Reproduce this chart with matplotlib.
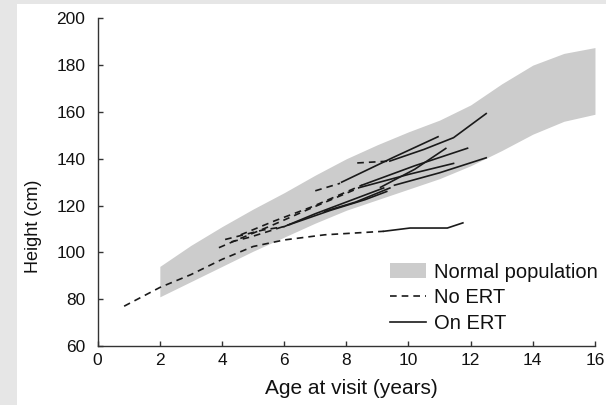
import matplotlib.pyplot as plt
from matplotlib.patches import Rectangle

plt.rcParams['font.family'] = ['Liberation Sans', 'DejaVu Sans']

# normal population range (shaded band)
band_age = [2, 3, 4, 5, 6, 7, 8, 9, 10, 11, 12, 13, 14, 15, 16]
band_low = [81, 87.5, 94, 100.5, 106.5, 112.5, 118, 122.5, 127, 131.5, 137, 143.5, 150.5, 156, 159]
band_high = [94, 103, 111, 118.5, 125.5, 133, 140, 146, 151.5, 156.5, 163, 172, 180, 185, 187.5]

# patients before ERT (dashed)
no_ert_ages = [
    [0.85, 2.0, 3.0, 4.0, 5.0, 6.0, 7.3, 9.2],
    [3.9, 4.6, 5.6, 6.8, 8.4],
    [4.1, 4.7, 5.3, 6.0],
    [4.3, 4.9, 5.5, 6.2],
    [4.6, 5.7, 6.9, 8.5],
    [7.0, 7.8],
    [8.35, 9.4],
]
no_ert_heights = [
    [77, 85, 90.5, 97, 102.5, 105.3, 107.5, 109],
    [102, 106, 111.5, 118.5, 127.5],
    [105.5, 107.5, 109.5, 111],
    [104.5, 106.5, 109, 112],
    [107.5, 113.5, 119.5, 128.7],
    [126.3, 129.5],
    [138.2, 139],
]

# patients on ERT (solid)
on_ert_ages = [
    [6.0, 7.0, 8.0, 9.2],
    [6.2, 7.5, 8.6, 9.3],
    [7.3, 8.3, 9.4],
    [7.85, 9.5, 10.95],
    [9.4, 10.5, 11.45, 12.5],
    [8.5, 10.2, 11.9],
    [8.4, 10.0, 11.45],
    [9.55, 11.0, 12.5],
    [9.1, 10.2, 11.2],
    [9.2, 10.05, 11.25, 11.75],
]
on_ert_heights = [
    [111, 116.5, 121.5, 127.5],
    [112, 118, 122.5, 126],
    [117.5, 121.5, 127.5],
    [130, 140.5, 149.4],
    [139, 144, 149, 159.3],
    [128.7, 137, 144.5],
    [127.6, 133.3, 138],
    [128.7, 134, 140.4],
    [127.8, 135.5, 144.4],
    [109, 110.4, 110.4, 112.6],
]

fig = plt.figure(figsize=(6.06, 4.05), dpi=100, facecolor='#e6e6e6')
fig.patches.append(Rectangle((17 / 606, 0), 1, 1 - 4 / 405, transform=fig.transFigure,
                             facecolor='white', edgecolor='none', zorder=-1))
ax = fig.add_axes([0.1612, 0.1457, 0.8206, 0.8091])
ax.patch.set_visible(False)

ax.fill_between(band_age, band_low, band_high, color='#cccccc', lw=0, label='Normal population')

line_col = '#1a1a1a'
for i in range(len(no_ert_ages)):
    ax.plot(no_ert_ages[i], no_ert_heights[i], color=line_col, lw=1.2, ls=(0, (4, 3)),
            label='No ERT' if i == 0 else None)
for i in range(len(on_ert_ages)):
    ax.plot(on_ert_ages[i], on_ert_heights[i], color=line_col, lw=1.2,
            label='On ERT' if i == 0 else None)

ax.set_xlim(0, 16)
ax.set_ylim(60, 200)
ax.set_xticks(range(0, 17, 2))
ax.set_yticks(range(60, 201, 20))
for s in ['top', 'right']:
    ax.spines[s].set_visible(False)
for s in ['left', 'bottom']:
    ax.spines[s].set_color('#333333')
    ax.spines[s].set_linewidth(1.0)
ax.tick_params(axis='both', direction='in', length=3.5, width=1.0, color='#333333',
               labelsize=12.5, labelcolor='#111111')
ax.tick_params(axis='y', pad=9)
ax.tick_params(axis='x', pad=5)

ax.set_xlabel('Age at visit (years)', fontsize=15, color='#111111')
ax.xaxis.set_label_coords(0.51, -0.1)
ax.set_ylabel('Height (cm)', fontsize=13, color='#111111')
ax.yaxis.set_label_coords(-0.112, 0.366)

ax.legend(loc='lower right', bbox_to_anchor=(1.005, 0.04), frameon=False, fontsize=14.5,
          borderpad=0, borderaxespad=0, handlelength=1.75, handletextpad=0.4,
          labelspacing=0.33, labelcolor='#111111')

plt.savefig('out.png', dpi=100, facecolor=fig.get_facecolor())
